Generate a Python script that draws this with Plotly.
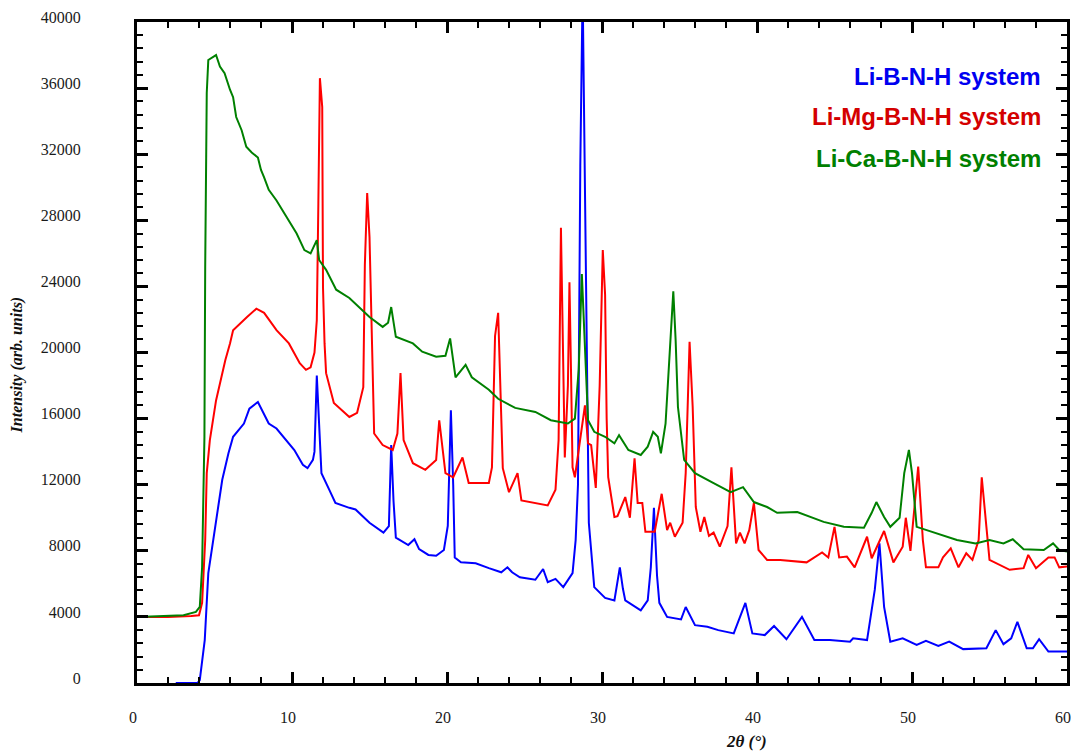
import plotly.graph_objects as go

# 2theta (deg) / intensity pairs for each powder pattern
li_b_n_h_x = [2.5, 3.9, 4.05, 4.37, 4.6, 5.1, 5.5, 5.9, 6.2, 6.9, 7.25, 7.8, 8.05, 8.5, 9.0, 9.6,
              10.15, 10.7, 11.0, 11.35, 11.45, 11.6, 11.75, 11.9, 12.4, 12.8, 13.7, 14.1, 15.0, 15.9,
              16.25, 16.4, 16.55, 16.7, 17.5, 17.9, 18.2, 18.8, 19.3, 19.8, 20.05, 20.25, 20.4, 20.5,
              20.9, 21.85, 22.7, 23.5, 23.9, 24.2, 24.7, 25.7, 26.2, 26.5, 27.0, 27.5, 28.1, 28.3,
              28.45, 28.6, 28.75, 28.95, 29.05, 29.15, 29.5, 30.2, 30.8, 30.95, 31.15, 31.35, 31.5,
              32.5, 32.95, 33.15, 33.35, 33.55, 33.7, 34.2, 35.1, 35.4, 36.0, 36.8, 37.5, 38.5, 39.25,
              39.7, 40.5, 41.1, 41.9, 42.9, 43.7, 44.7, 45.3, 46.0, 46.2, 47.1, 47.6, 47.9, 48.2, 48.6,
              49.4, 50.3, 50.9, 51.7, 52.4, 53.3, 54.8, 55.4, 55.9, 56.4, 56.8, 57.4, 57.8, 58.2, 58.8,
              60.0]
li_b_n_h_y = [0, 0, 180, 2600, 6650, 9700, 12300, 13900, 14900, 15700, 16600, 17000, 16500, 15700,
              15400, 14700, 14100, 13200, 13000, 13500, 14000, 18600, 15500, 12700, 11700, 10900,
              10600, 10500, 9700, 9100, 9500, 14400, 11000, 8800, 8350, 8700, 8100, 7750, 7700, 8050,
              9500, 16500, 12000, 7600, 7300, 7250, 6950, 6700, 7000, 6700, 6400, 6250, 6900, 6100,
              6300, 5800, 6650, 8650, 12000, 31300, 42000, 25600, 17300, 9700, 5800, 5150, 5000, 5800,
              7000, 5700, 5000, 4400, 5000, 7000, 10600, 6500, 4850, 4000, 3850, 4600, 3500, 3400,
              3200, 3000, 4850, 3000, 2900, 3450, 2650, 4000, 2600, 2600, 2550, 2500, 2700, 2600, 5650,
              8450, 4600, 2500, 2700, 2300, 2550, 2250, 2500, 2050, 2100, 3200, 2350, 2700, 3700, 2100,
              2100, 2650, 1900, 1900]

li_mg_b_n_h_x = [0.0, 2.0, 3.5, 4.0, 4.2, 4.4, 4.5, 4.7, 5.1, 5.7, 6.0, 6.2, 7.1, 7.7, 8.2, 9.0, 9.8,
                 10.3, 10.5, 10.9, 11.2, 11.45, 11.6, 11.7, 11.8, 11.95, 12.0, 12.1, 12.2, 12.7, 13.7,
                 14.2, 14.6, 14.7, 14.85, 15.0, 15.15, 15.3, 15.85, 16.5, 16.8, 17.0, 17.2, 17.8, 18.6,
                 19.3, 19.5, 19.9, 20.4, 21.0, 21.4, 22.7, 22.9, 23.1, 23.3, 23.45, 23.6, 24.0, 24.55,
                 24.8, 26.5, 27.0, 27.2, 27.35, 27.5, 27.6, 27.8, 27.9, 28.0, 28.1, 28.25, 28.6, 28.9,
                 29.1, 29.3, 29.6, 29.85, 30.05, 30.2, 30.3, 30.4, 30.8, 31.0, 31.5, 31.8, 32.1, 32.3,
                 32.6, 32.8, 33.4, 33.85, 34.2, 34.4, 34.7, 35.2, 35.4, 35.65, 35.85, 36.05, 36.35,
                 36.6, 36.9, 37.2, 37.6, 38.1, 38.35, 38.65, 38.9, 39.2, 39.5, 39.8, 40.1, 40.65, 41.5,
                 42.4, 43.2, 44.2, 44.6, 45.0, 45.3, 45.8, 46.3, 47.1, 47.4, 48.2, 48.8, 49.4, 49.6,
                 49.9, 50.4, 50.7, 50.9, 51.7, 52.0, 52.5, 53.0, 53.5, 53.9, 54.3, 54.5, 54.8, 55.0,
                 56.3, 57.2, 57.5, 58.0, 58.8, 59.2, 59.5, 60.0]
li_mg_b_n_h_y = [4000, 4000, 4050, 4100, 4850, 8650, 12700, 14700, 17100, 19550, 20550, 21350, 22150,
                 22650, 22400, 21350, 20550, 19750, 19350, 18950, 19100, 20000, 21950, 29000, 36600,
                 34850, 23950, 20550, 18750, 16950, 16100, 16350, 17900, 25300, 29650, 27000, 19950,
                 15100, 14400, 14100, 15100, 18750, 14700, 13300, 12900, 13500, 15900, 12700, 12450,
                 13650, 12100, 12100, 13050, 21000, 22400, 17000, 13000, 11550, 12700, 11050, 10750,
                 11700, 14700, 27550, 20350, 13650, 18000, 24250, 18900, 13050, 12450, 14900, 16800,
                 14500, 14400, 11800, 18000, 26200, 23500, 16000, 12450, 10050, 10100, 11250, 10000,
                 13600, 10900, 10900, 9150, 9150, 11450, 9250, 9700, 8850, 9700, 12700, 20650, 16700,
                 10650, 9150, 10050, 8900, 9100, 8250, 9500, 13050, 8450, 9100, 8450, 9250, 10900, 8050,
                 7450, 7450, 7350, 7300, 7900, 7600, 9450, 7600, 7650, 7000, 8850, 7550, 9200, 7300,
                 8250, 10000, 8000, 13100, 8650, 7000, 7000, 7600, 8150, 7000, 7850, 7450, 8650, 12450,
                 9450, 7450, 6850, 6950, 7750, 6950, 7600, 7600, 7000, 7050]

li_ca_b_n_h_x = [0.0, 2.0, 3.0, 3.8, 4.05, 4.2, 4.35, 4.4, 4.5, 4.6, 5.1, 5.35, 5.65, 6.0, 6.2, 6.4,
                 6.75, 7.05, 7.4, 7.8, 8.0, 8.2, 8.5, 9.0, 9.6, 10.3, 10.8, 11.2, 11.6, 11.75, 12.2,
                 12.85, 13.7, 14.3, 15.0, 15.85, 16.2, 16.4, 16.7, 17.8, 18.4, 19.3, 19.9, 20.2, 20.55,
                 21.2, 21.6, 22.7, 23.3, 24.4, 25.7, 26.7, 27.8, 28.25, 28.5, 28.7, 28.85, 29.1, 29.5,
                 30.2, 30.8, 31.1, 31.7, 32.5, 32.95, 33.3, 33.6, 33.8, 34.1, 34.45, 34.6, 34.75, 34.9,
                 35.3, 36.0, 37.2, 38.3, 39.1, 39.8, 40.65, 41.3, 42.6, 44.3, 45.6, 46.9, 47.4, 47.7,
                 48.2, 48.6, 49.2, 49.5, 49.8, 50.0, 50.3, 51.6, 52.9, 54.1, 55.0, 55.9, 56.5, 57.2,
                 58.5, 59.1, 59.5, 60.0]
li_ca_b_n_h_y = [4000, 4050, 4100, 4300, 4600, 7000, 14900, 25200, 35700, 37700, 38000, 37300, 36900,
                 35900, 35450, 34250, 33450, 32450, 32100, 31800, 31050, 30600, 29850, 29200, 28300,
                 27200, 26200, 26000, 26800, 25600, 25000, 23800, 23300, 22750, 22150, 21550, 21800,
                 22750, 20950, 20550, 20050, 19750, 19800, 20850, 18500, 19250, 18500, 17750, 17200,
                 16650, 16400, 15900, 15700, 16000, 19000, 24750, 21000, 15900, 15200, 14900, 14500,
                 15000, 14100, 13800, 14300, 15200, 14900, 13900, 15700, 21800, 23700, 20750, 16700,
                 13500, 12700, 12100, 11550, 11850, 10950, 10650, 10300, 10350, 9750, 9450, 9400, 10300,
                 10950, 10050, 9450, 10000, 12700, 14100, 12700, 9450, 9050, 8650, 8450, 8650, 8450,
                 8700, 8100, 8050, 8450, 8050, 7950]

series_names = ["Li-B-N-H system", "Li-Mg-B-N-H system", "Li-Ca-B-N-H system"]
line_colors = ["#0000ff", "#ff0000", "#008000"]
label_colors = ["#0000f0", "#d40000", "#008000"]

x_ticks = [0, 10, 20, 30, 40, 50, 60]
y_ticks = [0, 4000, 8000, 12000, 16000, 20000, 24000, 28000, 32000, 36000, 40000]

fig = go.Figure()
for xs, ys, name, col in zip(
        [li_b_n_h_x, li_mg_b_n_h_x, li_ca_b_n_h_x],
        [li_b_n_h_y, li_mg_b_n_h_y, li_ca_b_n_h_y],
        series_names, line_colors):
    fig.add_trace(go.Scatter(x=xs, y=ys, mode="lines", name=name,
                             line=dict(color=col, width=2), showlegend=False))

tick_font = dict(family="Liberation Serif", size=16, color="#1a1a1a")
axis_common = dict(showline=True, linecolor="black", linewidth=3, mirror="ticks",
                   ticks="inside", ticklen=11, tickwidth=3, tickcolor="black",
                   showgrid=False, zeroline=False, tickfont=tick_font)

fig.update_xaxes(range=[0, 60], tickvals=x_ticks, ticktext=[str(v) for v in x_ticks],
                 minor=dict(dtick=2, ticks="inside", ticklen=6, tickwidth=1.5, tickcolor="black"),
                 ticklabelstandoff=18, ticklabelshift=-4, **axis_common)
fig.update_yaxes(range=[0, 40000], tickvals=y_ticks, ticktext=[str(v) for v in y_ticks],
                 minor=dict(dtick=800, ticks="inside", ticklen=6, tickwidth=1.5, tickcolor="black"),
                 ticklabelstandoff=50, ticklabelshift=-5, **axis_common)

fig.update_layout(
    width=1071, height=752,
    margin=dict(l=137, r=1, t=22, b=69),
    plot_bgcolor="white", paper_bgcolor="white",
)

plot_w, plot_h = 1071 - 137 - 1, 752 - 22 - 69


def px_to_paper(px, py):
    return (px - 137) / plot_w, (683 - py) / plot_h


# series labels, stacked at the upper right
for i, (name, col) in enumerate(zip(series_names, label_colors)):
    ax, ay = px_to_paper(1046, 76 + 41 * i)
    fig.add_annotation(x=ax, y=ay, xref="paper", yref="paper",
                       text=f"<b>{name}</b>", showarrow=False, xanchor="right", yanchor="middle",
                       font=dict(family="Liberation Sans", size=24, color=col))

tx, ty = px_to_paper(17, 365)
fig.add_annotation(x=tx, y=ty, xref="paper", yref="paper",
                   text="<b><i>Intensity (arb. units)</i></b>", showarrow=False, textangle=-90,
                   xanchor="center", yanchor="middle",
                   font=dict(family="Liberation Serif", size=16, color="#111111"))
tx, ty = px_to_paper(748, 741)
fig.add_annotation(x=tx, y=ty, xref="paper", yref="paper",
                   text="<b><i>2θ (°)</i></b>", showarrow=False,
                   xanchor="center", yanchor="middle",
                   font=dict(family="Liberation Serif", size=17, color="#111111"))

fig.write_html("out.html")
